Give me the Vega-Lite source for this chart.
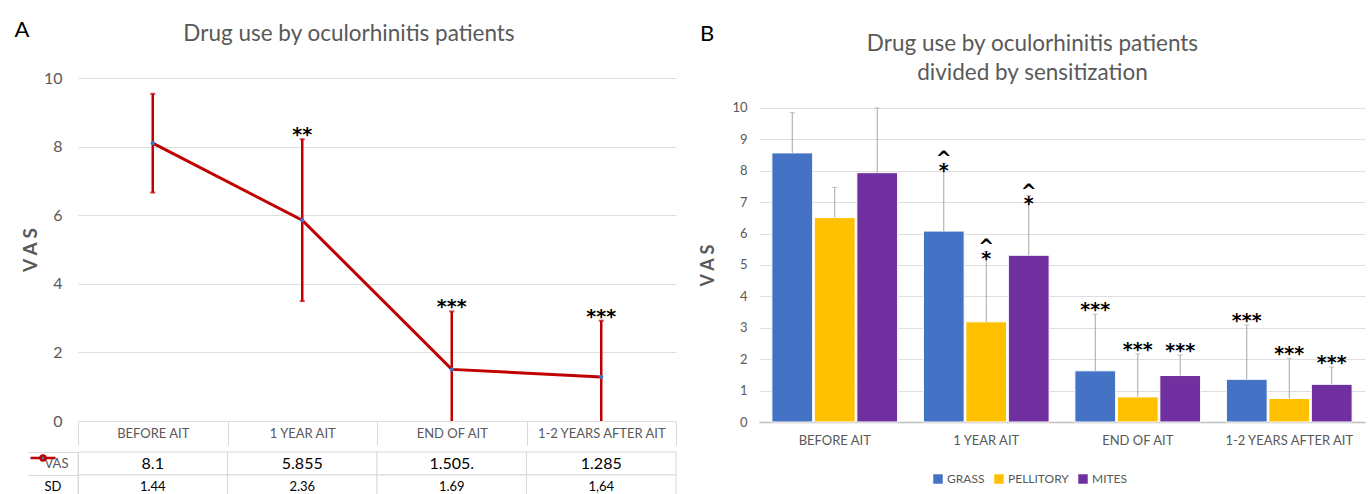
{
  "$schema": "https://vega.github.io/schema/vega-lite/v6.json",
  "background": "white",
  "padding": {"left": 14, "top": 18, "right": 2, "bottom": 2},
  "spacing": 22,
  "resolve": {"scale": {"color": "independent"}, "legend": {"color": "independent"}},
  "config": {
    "view": {"stroke": null},
    "font": "Lato",
    "axis": {"labelFont": "Lato", "titleFont": "Lato"},
    "title": {"font": "Lato"},
    "legend": {"labelFont": "Lato"}
  },
  "hconcat": [
    {
      "title": {"text": "A", "anchor": "start", "frame": "bounds", "offset": -19, "dx": -7, "fontSize": 22, "fontWeight": "normal", "color": "black"},
      "spacing": 0,
      "vconcat": [
        {
          "width": 598,
          "height": 343,
          "title": {"text": "Drug use by oculorhinitis patients", "fontSize": 22.5, "fontWeight": "normal", "color": "#595959", "anchor": "middle", "frame": "bounds", "offset": 25},
          "data": {"values": [
            {"period": "BEFORE AIT", "vas": 8.1, "lo": 6.66, "hi": 9.54, "sig": ""},
            {"period": "1 YEAR AIT", "vas": 5.855, "lo": 3.495, "hi": 8.215, "sig": "**"},
            {"period": "END OF AIT", "vas": 1.505, "lo": -0.185, "hi": 3.195, "sig": "***"},
            {"period": "1-2 YEARS AFTER AIT", "vas": 1.285, "lo": -0.355, "hi": 2.925, "sig": "***"}
          ]},
          "encoding": {
            "x": {
              "field": "period", "type": "nominal",
              "sort": ["BEFORE AIT", "1 YEAR AIT", "END OF AIT", "1-2 YEARS AFTER AIT"],
              "scale": {"paddingInner": 0, "paddingOuter": 0},
              "axis": {"title": null, "labelAngle": 0, "domain": false, "grid": false, "ticks": true, "tickBand": "extent", "tickSize": 24, "tickColor": "#d9d9d9", "labelPadding": -12, "labelBaseline": "middle", "labelFontSize": 13, "labelColor": "#595959"}
            }
          },
          "layer": [
            {
              "mark": {"type": "rule", "color": "#C00000", "strokeWidth": 2.5, "clip": true},
              "encoding": {
                "y": {"field": "lo", "type": "quantitative", "scale": {"domain": [0, 10]},
                  "axis": {"title": "V A S", "titleFontSize": 19, "titleFontWeight": "bold", "titleColor": "#595959", "titlePadding": 3, "values": [0, 2, 4, 6, 8, 10], "domain": false, "ticks": false, "grid": true, "gridColor": "#dedede", "labelFontSize": 16, "labelColor": "#595959", "labelPadding": 16}},
                "y2": {"field": "hi"}
              }
            },
            {
              "mark": {"type": "tick", "color": "#C00000", "size": 5, "thickness": 2},
              "encoding": {"y": {"field": "hi", "type": "quantitative"}}
            },
            {
              "transform": [{"filter": "datum.lo >= 0"}],
              "mark": {"type": "tick", "color": "#C00000", "size": 5, "thickness": 2},
              "encoding": {"y": {"field": "lo", "type": "quantitative"}}
            },
            {
              "mark": {"type": "line", "color": "#C00000", "strokeWidth": 3},
              "encoding": {"y": {"field": "vas", "type": "quantitative"}}
            },
            {
              "mark": {"type": "point", "filled": true, "color": "#4472C4", "size": 18, "opacity": 1},
              "encoding": {"y": {"field": "vas", "type": "quantitative"}}
            },
            {
              "mark": {"type": "text", "font": "DejaVu Sans", "fontSize": 19, "fontWeight": "bold", "color": "black", "baseline": "bottom", "dy": 6},
              "encoding": {"y": {"field": "hi", "type": "quantitative"}, "text": {"field": "sig"}}
            }
          ]
        },
        {
          "width": 598,
          "height": 46,
          "data": {"values": [
            {"row": "VAS", "period": "BEFORE AIT", "txt": "8.1"},
            {"row": "VAS", "period": "1 YEAR AIT", "txt": "5.855"},
            {"row": "VAS", "period": "END OF AIT", "txt": "1.505."},
            {"row": "VAS", "period": "1-2 YEARS AFTER AIT", "txt": "1.285"},
            {"row": "SD", "period": "BEFORE AIT", "txt": "1.44"},
            {"row": "SD", "period": "1 YEAR AIT", "txt": "2.36"},
            {"row": "SD", "period": "END OF AIT", "txt": "1.69"},
            {"row": "SD", "period": "1-2 YEARS AFTER AIT", "txt": "1,64"}
          ]},
          "encoding": {
            "x": {"field": "period", "type": "nominal", "sort": ["BEFORE AIT", "1 YEAR AIT", "END OF AIT", "1-2 YEARS AFTER AIT"], "scale": {"paddingInner": 0, "paddingOuter": 0}, "axis": null},
            "y": {"field": "row", "type": "nominal", "sort": ["VAS", "SD"], "scale": {"paddingInner": 0, "paddingOuter": 0},
              "axis": {"title": null, "domain": true, "domainColor": "#d9d9d9", "ticks": true, "tickBand": "extent", "tickSize": 50, "tickColor": "#d9d9d9", "labelAlign": "left", "labelPadding": -16,
                "labelExpr": "datum.value === 'VAS' ? '\u00a0\u00a0\u00a0\u00a0\u00a0VAS' : datum.value",
                "labelColor": {"condition": {"test": "datum.value === 'SD'", "value": "black"}, "value": "#595959"},
                "labelFontSize": 13}}
          },
          "layer": [
            {"mark": {"type": "rect", "fill": "white", "stroke": "#d9d9d9", "strokeWidth": 1}},
            {"transform": [{"filter": "datum.row === 'VAS'"}], "mark": {"type": "text", "fontSize": 16, "color": "black"}, "encoding": {"text": {"field": "txt"}}},
            {"transform": [{"filter": "datum.row === 'SD'"}], "mark": {"type": "text", "fontSize": 13, "color": "black"}, "encoding": {"text": {"field": "txt"}}},
            {"transform": [{"filter": "datum.row === 'VAS' && datum.period === 'BEFORE AIT'"}],
              "mark": {"type": "point", "filled": true, "opacity": 0},
              "encoding": {"color": {"datum": "VAS", "scale": {"range": ["#4472C4"]},
                "legend": {"title": null, "orient": "none", "legendX": -49, "legendY": 366, "padding": 0, "labelExpr": "''", "labelFontSize": 1,
                  "symbolType": "M-1,0H-0.2M0.2,0H1M-0.2,0A0.2,0.2 0 1,0 0.2,0A0.2,0.2 0 1,0 -0.2,0Z",
                  "symbolSize": 625, "symbolFillColor": "#4472C4", "symbolStrokeColor": "#C00000", "symbolStrokeWidth": 2.5, "symbolOpacity": 1}}}
            }
          ]
        }
      ]
    },
    {
      "title": {"text": "B", "anchor": "start", "frame": "bounds", "offset": -13, "fontSize": 22, "fontWeight": "normal", "color": "black"},
      "vconcat": [
        {
          "width": 606,
          "height": 344,
          "title": {"text": ["Drug use by oculorhinitis patients", "divided by sensitization"], "fontSize": 22.5, "lineHeight": 29, "fontWeight": "normal", "color": "#595959", "anchor": "middle", "frame": "bounds", "offset": -6},
          "data": {"values": [
            {"period": "BEFORE AIT", "sens": "GRASS", "value": 8.57, "hi": 9.85, "sig": ""},
            {"period": "BEFORE AIT", "sens": "PELLITORY", "value": 6.51, "hi": 7.47, "sig": ""},
            {"period": "BEFORE AIT", "sens": "MITES", "value": 7.94, "hi": 10, "sig": ""},
            {"period": "1 YEAR AIT", "sens": "GRASS", "value": 6.08, "hi": 8.24, "sig": "^\n*"},
            {"period": "1 YEAR AIT", "sens": "PELLITORY", "value": 3.19, "hi": 5.43, "sig": "^\n*"},
            {"period": "1 YEAR AIT", "sens": "MITES", "value": 5.31, "hi": 7.21, "sig": "^\n*"},
            {"period": "END OF AIT", "sens": "GRASS", "value": 1.63, "hi": 3.43, "sig": "***"},
            {"period": "END OF AIT", "sens": "PELLITORY", "value": 0.8, "hi": 2.17, "sig": "***"},
            {"period": "END OF AIT", "sens": "MITES", "value": 1.48, "hi": 2.13, "sig": "***"},
            {"period": "1-2 YEARS AFTER AIT", "sens": "GRASS", "value": 1.36, "hi": 3.09, "sig": "***"},
            {"period": "1-2 YEARS AFTER AIT", "sens": "PELLITORY", "value": 0.75, "hi": 2.03, "sig": "***"},
            {"period": "1-2 YEARS AFTER AIT", "sens": "MITES", "value": 1.2, "hi": 1.75, "sig": "***"}
          ]},
          "encoding": {
            "x": {
              "field": "period", "type": "nominal",
              "sort": ["BEFORE AIT", "1 YEAR AIT", "END OF AIT", "1-2 YEARS AFTER AIT"],
              "scale": {"paddingInner": 0.17, "paddingOuter": 0.085},
              "axis": {"title": null, "labelAngle": 0, "ticks": false, "domain": true, "domainColor": "#bfbfbf", "domainWidth": 1.5, "labelPadding": 12, "labelFontSize": 13, "labelColor": "#595959"}
            },
            "xOffset": {"field": "sens", "type": "nominal", "sort": ["GRASS", "PELLITORY", "MITES"], "scale": {"paddingInner": 0.04}}
          },
          "layer": [
            {
              "mark": {"type": "bar", "stroke": "white", "strokeWidth": 1},
              "encoding": {
                "y": {"field": "value", "type": "quantitative", "scale": {"domain": [0, 10.955], "nice": false},
                  "axis": {"title": "V A S", "titleFontSize": 18, "titleFontWeight": "bold", "titleColor": "#595959", "titlePadding": 14, "titleY": 187, "values": [0, 1, 2, 3, 4, 5, 6, 7, 8, 9, 10], "tickCount": 11, "domain": false, "ticks": false, "grid": true, "gridColor": "#dedede", "labelFontSize": 13, "labelColor": "#595959", "labelPadding": 12}},
                "color": {"field": "sens", "type": "nominal", "sort": ["GRASS", "PELLITORY", "MITES"],
                  "scale": {"domain": ["GRASS", "PELLITORY", "MITES"], "range": ["#4472C4", "#FFC000", "#7030A0"]},
                  "legend": {"title": null, "orient": "none", "legendX": 173, "legendY": 395, "direction": "horizontal", "symbolType": "square", "symbolSize": 90, "symbolStrokeWidth": 0, "labelFontSize": 12, "labelOffset": 3, "labelColor": "#595959", "columnPadding": 8}}
              }
            },
            {
              "mark": {"type": "rule", "color": "#a6a6a6", "strokeWidth": 1},
              "encoding": {"y": {"field": "value", "type": "quantitative",
                  "axis": {"title": "V A S", "titleFontSize": 18, "titleFontWeight": "bold", "titleColor": "#595959", "titlePadding": 14, "titleY": 187, "values": [0, 1, 2, 3, 4, 5, 6, 7, 8, 9, 10], "tickCount": 11, "domain": false, "ticks": false, "grid": true, "gridColor": "#dedede", "labelFontSize": 13, "labelColor": "#595959", "labelPadding": 12}},
                "y2": {"field": "hi"}}
            },
            {
              "mark": {"type": "tick", "color": "#a6a6a6", "size": 5, "thickness": 1},
              "encoding": {"y": {"field": "hi", "type": "quantitative",
                  "axis": {"title": "V A S", "titleFontSize": 18, "titleFontWeight": "bold", "titleColor": "#595959", "titlePadding": 14, "titleY": 187, "values": [0, 1, 2, 3, 4, 5, 6, 7, 8, 9, 10], "tickCount": 11, "domain": false, "ticks": false, "grid": true, "gridColor": "#dedede", "labelFontSize": 13, "labelColor": "#595959", "labelPadding": 12}}}
            },
            {
              "mark": {"type": "text", "font": "DejaVu Sans", "fontSize": 19, "fontWeight": "bold", "color": "black", "baseline": "bottom", "dy": 6, "lineBreak": "\n", "lineHeight": 12},
              "encoding": {"y": {"field": "hi", "type": "quantitative",
                  "axis": {"title": "V A S", "titleFontSize": 18, "titleFontWeight": "bold", "titleColor": "#595959", "titlePadding": 14, "titleY": 187, "values": [0, 1, 2, 3, 4, 5, 6, 7, 8, 9, 10], "tickCount": 11, "domain": false, "ticks": false, "grid": true, "gridColor": "#dedede", "labelFontSize": 13, "labelColor": "#595959", "labelPadding": 12}},
                "text": {"field": "sig"}}
            }
          ]
        }
      ]
    }
  ]
}
